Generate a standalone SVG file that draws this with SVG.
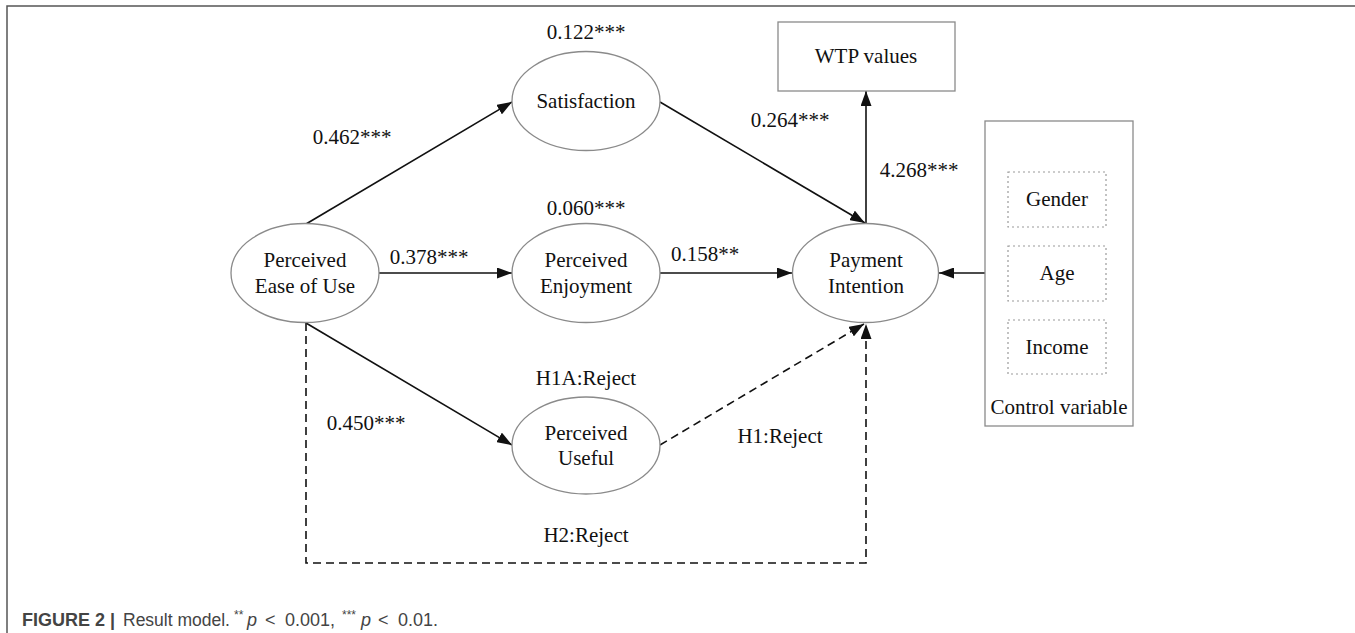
<svg xmlns="http://www.w3.org/2000/svg" width="1355" height="633" viewBox="0 0 1355 633">
<style>
.t{font-family:"Liberation Serif","Times New Roman",serif;font-size:21px;fill:#111;text-anchor:middle}
.el{fill:#fff;stroke:#8a8a8a;stroke-width:1.3}
.bx{fill:#fff;stroke:#8a8a8a;stroke-width:1.3}
.dot{fill:none;stroke:#9a9a9a;stroke-width:1.2;stroke-dasharray:2 3}
.c{fill:none;stroke:#111;stroke-width:1.6}
.d{fill:none;stroke:#111;stroke-width:1.6;stroke-dasharray:8 5}
.cap{font-family:"Liberation Sans",Arial,sans-serif;font-size:18px;fill:#444}
.sup{font-size:12px}
</style>
<defs>
<marker id="ah" markerUnits="userSpaceOnUse" markerWidth="15" markerHeight="11" refX="15" refY="5.5" orient="auto">
<path d="M0,0 L15,5.5 L0,11 z" fill="#111"/>
</marker>
</defs>
<rect width="1355" height="633" fill="#fff"/>
<path d="M7,633 V6 H1355" fill="none" stroke="#555" stroke-width="1.5"/>

<g id="connectors">
<line class="c" x1="306" y1="224" x2="512" y2="102" marker-end="url(#ah)"/>
<line class="c" x1="379" y1="273" x2="512" y2="273" marker-end="url(#ah)"/>
<line class="c" x1="306" y1="323" x2="512" y2="445" marker-end="url(#ah)"/>
<line class="c" x1="660" y1="102" x2="865" y2="223" marker-end="url(#ah)"/>
<line class="c" x1="660" y1="273" x2="792" y2="273" marker-end="url(#ah)"/>
<line class="c" x1="866" y1="223" x2="866" y2="91" marker-end="url(#ah)"/>
<line class="c" x1="985" y1="273" x2="939" y2="273" marker-end="url(#ah)"/>
<line class="d" x1="660" y1="445" x2="864" y2="324" marker-end="url(#ah)"/>
<path class="d" d="M306,323 V563 H866 V324" marker-end="url(#ah)"/>
<text class="t" x="586" y="39">0.122***</text>
<text class="t" x="352" y="144">0.462***</text>
<text class="t" x="586" y="215">0.060***</text>
<text class="t" x="429" y="264">0.378***</text>
<text class="t" x="790" y="127">0.264***</text>
<text class="t" x="919" y="177">4.268***</text>
<text class="t" x="705" y="261">0.158**</text>
<text class="t" x="586" y="385">H1A:Reject</text>
<text class="t" x="366" y="430">0.450***</text>
<text class="t" x="780" y="443">H1:Reject</text>
<text class="t" x="586" y="542">H2:Reject</text>
</g>

<g id="satisfaction">
<ellipse class="el" cx="586" cy="101" rx="74" ry="49.5"/>
<text class="t" x="586" y="108">Satisfaction</text>
</g>
<g id="peou">
<ellipse class="el" cx="305" cy="273" rx="74" ry="49.5"/>
<text class="t" x="305" y="267">Perceived</text>
<text class="t" x="305" y="293">Ease of Use</text>
</g>
<g id="enjoyment">
<ellipse class="el" cx="586" cy="273" rx="74" ry="49.5"/>
<text class="t" x="586" y="267">Perceived</text>
<text class="t" x="586" y="293">Enjoyment</text>
</g>
<g id="useful">
<ellipse class="el" cx="586" cy="445.5" rx="74" ry="48.5"/>
<text class="t" x="586" y="440">Perceived</text>
<text class="t" x="586" y="465">Useful</text>
</g>
<g id="payment">
<ellipse class="el" cx="865.5" cy="273" rx="73" ry="49.5"/>
<text class="t" x="866" y="267">Payment</text>
<text class="t" x="866" y="293">Intention</text>
</g>
<g id="wtp">
<rect class="bx" x="778" y="22" width="177" height="69"/>
<text class="t" x="866" y="63">WTP values</text>
</g>
<g id="control">
<rect class="bx" x="985" y="121" width="148" height="305"/>
<rect class="dot" x="1008" y="172" width="98" height="55"/>
<text class="t" x="1057" y="206">Gender</text>
<rect class="dot" x="1008" y="246" width="98" height="55"/>
<text class="t" x="1057" y="280">Age</text>
<rect class="dot" x="1008" y="320" width="98" height="54"/>
<text class="t" x="1057" y="354">Income</text>
<text class="t" x="1059" y="414">Control variable</text>
</g>

<g id="caption">
<text class="cap" x="22" y="626" font-weight="bold" fill="#333">FIGURE 2 |</text>
<text class="cap" x="123" y="626" textLength="107" lengthAdjust="spacingAndGlyphs">Result model.</text>
<text class="cap" y="626"><tspan class="sup" x="234" dy="-7">**</tspan><tspan x="247" dy="7" font-style="italic">p</tspan><tspan x="265">&lt;</tspan><tspan x="285">0.001,</tspan><tspan class="sup" x="342" dy="-7">***</tspan><tspan x="361" dy="7" font-style="italic">p</tspan><tspan x="378">&lt;</tspan><tspan x="398">0.01.</tspan></text>
</g>
</svg>
